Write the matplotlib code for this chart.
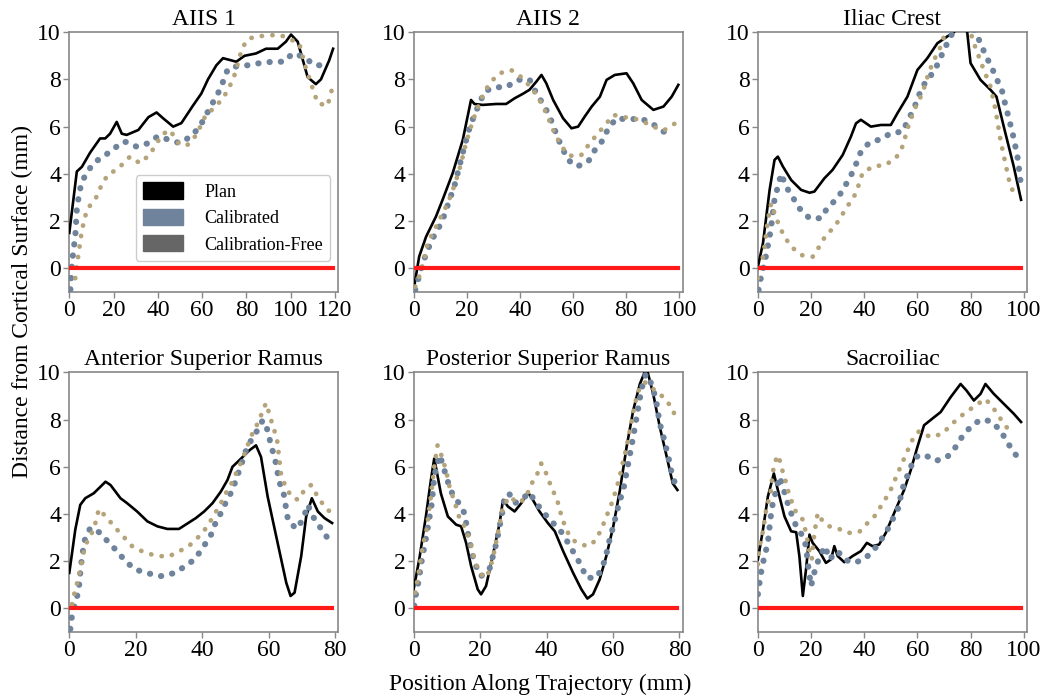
import matplotlib
matplotlib.use('Agg')
import matplotlib.pyplot as plt
from matplotlib.patches import Patch

plt.rcParams['font.family'] = ['Liberation Serif', 'DejaVu Serif']
plt.rcParams['font.size'] = 17

# panel titles
titles = ['AIIS 1', 'AIIS 2', 'Iliac Crest',
          'Anterior Superior Ramus', 'Posterior Superior Ramus', 'Sacroiliac']
series_names = ['Plan', 'Calibrated', 'Calibration-Free']

# AIIS 1
aiis1_plan_x = [0, 3.4, 5.7, 9.4, 13.9, 16.2, 18.4, 21.4, 23.7, 25.9, 31.2, 35.7, 39.4, 42.4, 46.9, 50.6,
                55.9, 59.6, 62.6, 66.4, 69.4, 75.4, 79.1, 84.3, 88.8, 94.1, 97.8, 100.1, 103.1, 107.6,
                111.3, 113.6, 117.3, 119.1]
aiis1_plan_y = [1.5, 4.1, 4.3, 4.9, 5.5, 5.5, 5.7, 6.2, 5.7, 5.65, 5.86, 6.4, 6.6, 6.35, 6.0, 6.15,
                6.9, 7.4, 8.0, 8.6, 8.9, 8.75, 9.0, 9.1, 9.3, 9.3, 9.6, 9.9, 9.6, 8.1,
                7.8, 8.0, 8.8, 9.3]
aiis1_cal_x = [0.5, 1.2, 2.0, 2.7, 3.4, 4.2, 5.2, 7.2, 10.9, 14.7, 19.5, 23.7, 25.9, 30.4, 35.7, 40.1,
               44.7, 49.9, 55.1, 58.9, 64.1, 67.1, 69.4, 71.6, 75.4, 80.6, 86.6, 91.9, 97.1, 100.8,
               106.1, 110.6, 115.8]
aiis1_cal_y = [-0.9, 0.2, 0.85, 1.35, 2.5, 3.0, 3.5, 3.95, 4.45, 4.7, 5.0, 5.35, 5.35, 5.15, 5.3, 5.6,
               5.45, 5.3, 5.6, 6.0, 6.9, 7.4, 7.9, 8.45, 8.55, 8.6, 8.7, 8.75, 8.75, 9.1,
               8.95, 8.6, 8.6]
aiis1_free_x = [2.7, 4.2, 5.7, 7.9, 12.4, 14.7, 17.7, 21.4, 25.2, 27.4, 31.9, 36.1, 39.4, 41.6, 45.4,
                49.1, 52.9, 57.4, 61.4, 65.6, 69.4, 72.4, 74.6, 77.6, 79.9, 83.6, 88.8, 94.8, 103.8,
                106.8, 109.1, 112.1, 116.6, 118.1, 119.6]
aiis1_free_y = [-0.42, 0.64, 1.62, 2.47, 3.04, 3.56, 4.0, 4.17, 4.52, 4.73, 4.45, 4.8, 5.27, 5.65, 5.86,
                5.32, 5.18, 5.65, 6.45, 6.82, 7.2, 7.7, 8.19, 9.18, 9.65, 9.82, 9.85, 9.9, 9.53,
                8.47, 7.84, 7.0, 6.88, 7.42, 7.91]

# AIIS 2
aiis2_plan_x = [0, 2.1, 4.7, 8.4, 10.9, 14.7, 18.5, 21.6, 22.9, 26.0, 31.1, 34.8, 38.0, 41.1, 43.6, 46.2,
                48.1, 49.9, 52.5, 56.2, 59.4, 61.9, 64.4, 67.0, 70.1, 72.6, 75.7, 80.1, 82.6, 85.8,
                90.2, 94.0, 97.1, 99.6]
aiis2_plan_y = [-0.92, 0.5, 1.34, 2.19, 2.9, 4.03, 5.44, 7.13, 6.96, 6.92, 6.96, 6.96, 7.2, 7.39, 7.56, 7.91,
                8.19, 7.84, 7.13, 6.36, 5.93, 6.0, 6.43, 6.85, 7.27, 7.98, 8.19, 8.26, 7.84, 7.13,
                6.71, 6.85, 7.27, 7.77]
aiis2_cal_x = [0.6, 3.4, 5.3, 7.2, 9.7, 11.6, 13.5, 15.3, 17.2, 19.1, 21.0, 22.9, 24.8, 26.7, 30.4, 34.8,
               39.2, 43.6, 45.5, 48.1, 50.6, 52.5, 54.0, 56.0, 58.1, 61.5, 65.7, 68.2, 71.3, 73.2,
               76.4, 80.8, 85.2, 89.6, 94.0, 97.7]
aiis2_cal_y = [-0.92, 0.21, 0.78, 1.27, 1.77, 2.26, 2.9, 3.46, 4.31, 5.16, 5.93, 6.5, 6.99, 7.49, 7.67, 7.67,
               7.98, 8.0, 7.56, 7.06, 6.57, 6.07, 5.58, 5.08, 4.59, 4.31, 4.52, 5.01, 5.44, 5.93,
               6.36, 6.29, 6.36, 6.14, 5.79, 5.72]
aiis2_free_x = [0.6, 2.1, 3.6, 5.3, 7.2, 9.7, 12.2, 14.1, 16.0, 17.9, 19.7, 21.6, 23.5, 26.7, 29.2, 32.3,
                36.7, 41.1, 44.9, 47.4, 49.9, 52.5, 55.0, 57.5, 60.0, 63.1, 66.3, 69.4, 72.6, 75.1,
                78.9, 82.6, 86.4, 90.2, 94.0, 98.4]
aiis2_free_y = [-0.78, -0.35, 0.21, 1.06, 1.48, 2.05, 2.61, 3.11, 3.74, 4.45, 5.3, 6.0, 6.64, 7.49, 7.91, 8.26,
                8.4, 8.05, 7.56, 7.13, 6.57, 5.86, 5.3, 4.87, 4.73, 4.8, 5.3, 5.72, 6.14, 6.5,
                6.4, 6.36, 6.21, 6.0, 5.83, 6.14]

# Iliac Crest
iliac_plan_x = [0, 1.9, 4.4, 6.25, 7.5, 9.4, 12.5, 16.25, 19.4, 21.25, 25, 28.1, 31.9, 35, 36.9, 38.75,
                42.5, 46.25, 50, 52.5, 56.25, 60, 63.75, 67.5, 71.25, 73.75, 76.2, 78.75, 80, 83.75,
                87.5, 89.75, 92.5, 96.25, 99]
iliac_plan_y = [0.07, 1.06, 3.32, 4.59, 4.73, 4.31, 3.74, 3.32, 3.2, 3.25, 3.81, 4.17, 4.8, 5.58, 6.14, 6.29,
                6.0, 6.07, 6.07, 6.57, 7.27, 8.4, 8.9, 9.53, 9.82, 10.0, 10.4, 10.0, 8.69, 7.98,
                7.56, 7.27, 6.0, 4.31, 2.9]
iliac_cal_x = [0.25, 1.25, 2.5, 3.5, 4.4, 5, 6.25, 7.5, 8.75, 10.6, 13.1, 15.6, 19.4, 23.75, 26.25, 30,
               32.5, 35, 36.9, 38.75, 41.9, 46.25, 50, 54.4, 56.9, 58.75, 60.6, 63.1, 66.25, 68.1,
               70, 72.5, 74.5, 77, 79.5, 81.9, 83.75, 85.6, 88.1, 90, 91.9, 93.1, 94.4, 96.25,
               97.75, 98.75]
iliac_cal_y = [-0.92, -0.32, 0.21, 0.81, 1.34, 1.77, 2.92, 3.46, 4.0, 3.46, 3.01, 2.54, 2.12, 2.12, 2.58, 2.97,
               3.43, 3.93, 4.41, 4.94, 5.32, 5.47, 5.72, 5.79, 6.36, 6.78, 7.34, 7.91, 8.33, 8.76,
               9.25, 9.82, 10.2, 10.5, 10.4, 10.0, 9.53, 9.04, 8.47, 7.98, 7.49, 6.92, 6.36, 5.51,
               4.66, 3.74]
iliac_free_x = [0, 1.25, 2.5, 3.75, 5, 6.25, 8.1, 10, 12.5, 16.25, 20.6, 23.1, 25.6, 28.75, 31.25, 34.4,
                36.9, 39.4, 43.75, 47.5, 51.9, 54.4, 56.9, 59.4, 61.9, 64.4, 66.9, 68.75, 70, 73,
                76.5, 80, 81.25, 83.1, 85, 87.5, 89.4, 91.25, 93.1, 95, 96.9]
iliac_free_y = [-0.42, 0.07, 0.92, 2.05, 2.75, 2.33, 1.77, 1.34, 0.92, 0.56, 0.49, 0.92, 1.41, 1.74, 2.19, 2.75,
                3.18, 4.05, 4.34, 4.35, 4.66, 5.16, 6.14, 6.85, 7.42, 8.33, 8.97, 9.39, 9.82, 10.3,
                10.4, 10.0, 9.53, 8.97, 8.4, 7.7, 6.71, 5.44, 4.45, 3.46, 3.11]

# Anterior Superior Ramus
asr_plan_x = [0, 1.8, 3.3, 4.8, 7.35, 9.4, 10.9, 12.4, 15.4, 17.4, 20.4, 23.5, 26.5, 29.5, 33.0, 35.0,
              38.1, 40.6, 43.1, 45.6, 47.6, 49.1, 51.7, 54.2, 56.2, 57.7, 59.7, 62.7, 65.3, 66.6,
              67.8, 69.8, 71.3, 73.0, 74.8, 76.8, 79.1]
asr_plan_y = [1.51, 3.34, 4.39, 4.67, 4.88, 5.16, 5.37, 5.23, 4.67, 4.46, 4.11, 3.69, 3.48, 3.37, 3.37, 3.55,
              3.83, 4.11, 4.46, 4.95, 5.44, 6.0, 6.35, 6.7, 6.91, 6.42, 4.74, 2.78, 1.09, 0.53,
              0.67, 2.22, 3.9, 4.67, 4.11, 3.83, 3.62]
asr_cal_x = [0.3, 0.8, 1.8, 2.8, 3.5, 4.5, 6.3, 9.4, 11.9, 14.4, 16.9, 19.9, 23.7, 27.5, 31.3, 34.7,
             37.9, 40.1, 42.4, 43.8, 45.6, 47.1, 49.1, 51.7, 53.2, 54.7, 56.7, 58.2, 59.7, 60.7,
             61.9, 63.2, 64.6, 65.8, 68.3, 70.3, 71.8, 73.3, 75.3, 77.5]
asr_cal_y = [-0.87, -0.31, 0.25, 0.74, 1.8, 2.85, 3.41, 3.2, 2.78, 2.43, 2.0, 1.65, 1.49, 1.37, 1.49, 1.77,
             2.1, 2.57, 3.03, 3.55, 4.04, 4.49, 5.02, 6.07, 6.7, 7.12, 7.57, 7.97, 7.55, 6.91,
             6.35, 5.37, 4.81, 3.76, 3.37, 3.76, 4.39, 3.9, 3.48, 3.03]
asr_free_x = [0.8, 1.8, 2.8, 3.5, 4.3, 5.5, 7.35, 8.9, 11.4, 13.9, 16.4, 18.9, 22.5, 26.0, 29.7, 33.2,
              36.1, 39.1, 41.6, 43.4, 45.4, 47.1, 49.1, 50.7, 52.2, 53.5, 54.7, 56.2, 57.7, 59.2,
              60.2, 61.2, 62.5, 63.7, 64.9, 66.8, 68.9, 71.1, 72.8, 74.6, 76.8, 79.4]
asr_free_y = [0.18, 0.81, 1.3, 1.8, 2.36, 2.89, 3.34, 4.21, 3.83, 3.41, 3.03, 2.64, 2.38, 2.24, 2.19, 2.43,
              2.66, 3.06, 3.48, 3.93, 4.39, 4.88, 5.37, 5.89, 6.35, 6.84, 7.29, 7.69, 8.18, 8.7,
              8.25, 7.76, 7.19, 5.72, 5.23, 4.74, 4.6, 5.09, 5.23, 4.78, 4.32, 3.97]

# Posterior Superior Ramus
psr_plan_x = [0, 1.7, 3.7, 5.2, 6.2, 6.7, 8.2, 10.3, 12.8, 14.3, 15.8, 17.3, 19.3, 20.3, 21.8, 23.8,
              25.9, 26.9, 28.4, 30.4, 32.4, 34.4, 35.9, 37.9, 40.4, 42.5, 45.0, 48.0, 50.5, 52.3,
              54.0, 56.0, 58.0, 60.1, 62.1, 64.1, 66.1, 68.1, 70.1, 72.1, 74.1, 76.2, 78.0, 79.4]
psr_plan_y = [0.81, 2.08, 3.9, 5.44, 6.35, 6.0, 4.88, 3.9, 3.55, 3.48, 2.78, 1.8, 0.81, 0.6, 0.95, 2.22,
              3.62, 4.6, 4.32, 4.11, 4.46, 4.92, 4.6, 4.11, 3.62, 3.27, 2.43, 1.51, 0.81, 0.42,
              0.6, 1.23, 2.22, 3.48, 5.02, 6.84, 8.39, 9.51, 10.2, 9.1, 7.69, 6.42, 5.3, 5.02]
psr_cal_x = [0.2, 0.7, 1.5, 2.5, 3.5, 4.5, 5.5, 6.2, 6.9, 7.9, 8.95, 10.3, 11.6, 13.6, 15.3, 16.6,
             18.3, 20.3, 22.8, 24.8, 25.9, 27.4, 28.7, 30.4, 32.4, 34.9, 36.9, 39.7, 42.0, 44.0,
             46.5, 48.5, 50.5, 52.0, 55.0, 56.8, 58.0, 59.0, 60.1, 61.6, 63.3, 64.6, 66.1, 67.3,
             68.6, 69.9, 71.6, 72.9, 74.1, 75.2, 76.2, 77.0, 77.7, 79.0]
psr_cal_y = [0.11, 0.6, 1.16, 2.08, 2.8, 3.62, 4.46, 5.58, 6.0, 6.49, 6.0, 5.37, 4.88, 4.46, 4.04, 2.99,
             1.93, 1.37, 1.65, 2.71, 3.48, 4.6, 4.88, 4.46, 4.6, 4.91, 4.46, 3.97, 3.62, 3.34,
             2.78, 2.29, 1.8, 1.3, 1.3, 1.72, 2.29, 2.92, 3.48, 4.32, 5.16, 6.14, 7.27, 8.25,
             9.3, 9.93, 9.51, 8.88, 7.83, 7.27, 6.7, 6.21, 5.72, 5.16]
psr_free_x = [0.5, 1.7, 2.7, 3.9, 5.2, 6.2, 7.2, 8.2, 9.75, 10.8, 12.3, 13.8, 15.3, 16.8, 18.6, 20.3,
              22.0, 23.8, 25.4, 26.9, 28.9, 31.4, 33.7, 35.4, 36.9, 38.4, 39.9, 41.4, 43.2, 44.8,
              46.5, 48.5, 50.5, 52.5, 54.5, 56.5, 57.8, 59.3, 60.6, 61.9, 62.9, 64.1, 65.3, 66.6,
              67.9, 69.6, 72.1, 75.2, 78.0, 78.7]
psr_free_y = [0.67, 1.65, 2.64, 3.34, 4.74, 6.0, 6.91, 6.56, 5.86, 5.16, 4.53, 3.83, 3.48, 2.95, 1.93, 1.44,
              1.3, 2.08, 3.2, 4.32, 4.74, 4.46, 4.67, 5.27, 5.58, 6.14, 5.72, 5.16, 4.6, 3.76,
              3.2, 2.85, 2.71, 2.64, 2.85, 3.34, 3.83, 4.32, 4.88, 5.51, 6.14, 6.84, 7.69, 8.67,
              9.3, 9.58, 9.3, 8.95, 8.46, 8.11]

# Sacroiliac
sacro_plan_x = [0, 1.9, 3.75, 6, 7.5, 10, 12.5, 14.4, 15.6, 16.9, 18.1, 19.4, 20.6, 23.1, 25.6, 27.5,
                28.75, 30, 32.5, 35.6, 38.75, 41, 43.1, 45.6, 48.1, 51.25, 55, 57.5, 60, 62.5,
                65.6, 68.75, 72.5, 76.25, 78.5, 81.25, 83.75, 85.6, 88.75, 92.5, 96.25, 99]
sacro_plan_y = [2.08, 3.34, 4.74, 5.72, 5.02, 3.9, 3.27, 3.23, 2.22, 0.53, 1.65, 3.13, 2.78, 2.43, 1.93, 2.08,
                2.64, 2.22, 1.96, 2.22, 2.43, 2.78, 2.64, 2.71, 3.2, 4.04, 5.02, 5.86, 6.84, 7.76,
                8.04, 8.32, 8.95, 9.51, 9.23, 8.81, 9.09, 9.51, 9.09, 8.67, 8.25, 7.9]
sacro_cal_x = [0, 0.6, 1.5, 2.5, 3.75, 4.75, 5.6, 6.9, 8.1, 9.4, 11, 12.5, 14.4, 16.9, 18.1, 18.75,
               20, 21.5, 23.1, 25.25, 26.9, 30, 32.5, 36, 40, 43.75, 46.25, 48.75, 51.25, 53.1,
               54, 55.6, 57.5, 59.4, 62.5, 66.9, 71.25, 74.4, 76.9, 80, 83.75, 87.5, 91.25, 93.75,
               96.25, 98.5]
sacro_cal_y = [0.6, 1.09, 1.73, 2.22, 2.78, 3.83, 4.46, 5.02, 5.58, 5.16, 4.53, 4.04, 3.48, 3.06, 2.64, 1.93,
               0.95, 1.65, 2.15, 2.64, 2.08, 2.43, 2.08, 1.93, 2.08, 2.5, 2.89, 3.34, 3.9, 4.32,
               4.95, 5.44, 6.0, 6.42, 6.52, 6.25, 6.42, 6.84, 7.29, 7.69, 8.0, 7.94, 7.55, 7.05,
               6.63, 6.28]
sacro_free_x = [0, 0.6, 1.9, 3.1, 4.75, 5.6, 6.9, 7.75, 8.75, 10, 11.25, 13.75, 16.9, 18.1, 19.4, 20.25,
                21.25, 22.5, 24.4, 26.9, 29.75, 33.75, 38.1, 41.25, 44.4, 46.9, 49.4, 51.25, 53.1, 55,
                56.9, 58.75, 60.6, 65, 69.4, 73.1, 77.5, 81.9, 85.6, 88.75, 91.25, 94.4]
sacro_free_y = [1.87, 2.64, 3.27, 4.18, 4.88, 5.79, 6.35, 6.49, 6.0, 5.58, 5.02, 4.18, 3.76, 3.2, 2.43, 2.08,
                3.2, 4.04, 3.69, 3.48, 3.41, 3.2, 3.24, 3.62, 3.97, 4.46, 4.88, 5.37, 5.86, 6.35,
                6.84, 7.29, 7.5, 7.26, 7.4, 7.83, 8.25, 8.6, 8.88, 8.46, 8.04, 7.55]

panels = [
    (aiis1_plan_x, aiis1_plan_y, aiis1_cal_x, aiis1_cal_y, aiis1_free_x, aiis1_free_y, 120),
    (aiis2_plan_x, aiis2_plan_y, aiis2_cal_x, aiis2_cal_y, aiis2_free_x, aiis2_free_y, 100),
    (iliac_plan_x, iliac_plan_y, iliac_cal_x, iliac_cal_y, iliac_free_x, iliac_free_y, 100),
    (asr_plan_x, asr_plan_y, asr_cal_x, asr_cal_y, asr_free_x, asr_free_y, 80),
    (psr_plan_x, psr_plan_y, psr_cal_x, psr_cal_y, psr_free_x, psr_free_y, 80),
    (sacro_plan_x, sacro_plan_y, sacro_cal_x, sacro_cal_y, sacro_free_x, sacro_free_y, 100),
]

plan_color = 'black'
cal_color = '#6f849c'
free_color = '#b5a47a'
legend_free_color = '#666666'

fig, axes = plt.subplots(2, 3, figsize=(10.5, 7), dpi=100)
fig.subplots_adjust(left=0.066, right=0.978, top=0.954, bottom=0.097, wspace=0.28, hspace=0.31)

for ax, title, (px, py, cx, cy, fx, fy, xmax) in zip(axes.flat, titles, panels):
    ax.plot(px, py, color=plan_color, lw=1.9, zorder=3)
    ax.plot(cx, cy, color=cal_color, lw=4.4, linestyle=(0, (0.05, 1.8)),
            dash_capstyle='round', zorder=4)
    ax.plot(fx, fy, color=free_color, lw=3.4, linestyle=(0, (0.05, 2.2)),
            dash_capstyle='round', zorder=4)
    ax.plot([0, px[-1]], [0, 0], color='#ff1a1a', lw=3, zorder=5)
    ax.set_xlim(0, xmax * 1.012)
    ax.set_ylim(-1, 10)
    ax.set_xticks(range(0, xmax + 1, 20))
    ax.set_yticks(range(0, 11, 2))
    ax.set_title(title, fontsize=17, pad=5)
    ax.tick_params(labelsize=17, length=4, width=1, color='#888888', pad=2)
    for s in ax.spines.values():
        s.set_color('#888888')
        s.set_linewidth(1.2)

handles = [Patch(color=plan_color), Patch(color=cal_color), Patch(color=legend_free_color)]
axes[0, 0].legend(handles, series_names, loc='lower right', bbox_to_anchor=(0.97, 0.12),
                  borderaxespad=0, fontsize=13, handlelength=2.2, handleheight=1.0,
                  handletextpad=1.2, labelspacing=0.45, framealpha=1)

fig.text(0.514, 0.022, 'Position Along Trajectory (mm)', ha='center', va='center', fontsize=17)
fig.text(0.021, 0.57, 'Distance from Cortical Surface (mm)', ha='center', va='center',
         rotation=90, fontsize=17)

plt.savefig('out.png', dpi=100)
